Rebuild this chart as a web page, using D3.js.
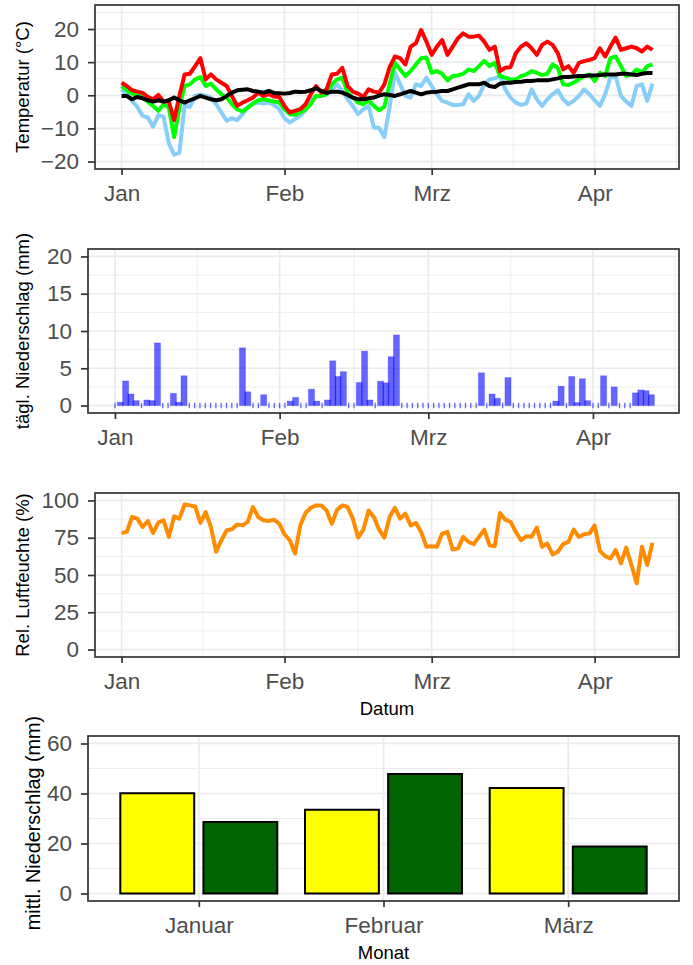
<!DOCTYPE html>
<html lang="de">
<head>
<meta charset="UTF-8">
<title>Wetter Januar - April</title>
<script src="https://d3js.org/d3.v7.min.js"></script>
<style>
    body { margin: 0; background: #fff; }
    svg text { font-family: "Liberation Sans", Arial, sans-serif; }
    .grid-major { stroke: #ebebeb; stroke-width: 1.7px; }
    .grid-minor { stroke: #ebebeb; stroke-width: 0.9px; }
    .frame { fill: none; stroke: #333; stroke-width: 1.7px; }
</style>
</head>
<body>
<script>
    var width = 693, height = 965;

    // daily values, 1 Jan - 12 Apr
    var startDate = new Date(2019, 0, 1);

    var tMax = [3.8, 2.8, 1.5, 1.1, 0.7, -0.5, -1.2, 0.1, -1.9, -1.9,
        -7.5, -0.2, 6.3, 6.5, 8.8, 11.2, 4.8, 6.3, 4.8, 3.8,
        2.8, -0.2, -3.2, -2.2, -1.5, -0.7, 0.8, -0.2, 0.3, -0.4,
        -0.5, -3.2, -5.2, -4.7, -4.2, -2.7, 0.3, 2.8, 0.8, 1.8,
        6.3, 6.5, 8.3, 2.8, 1.1, 0.5, -0.5, 1.8, 1.1, 0.8,
        3.3, 8.5, 11.7, 11.2, 9.3, 14.7, 15.7, 19.7, 16.2, 12.2,
        14.7, 16.7, 12.2, 14.7, 17.2, 18.7, 17.7, 17.7, 18.0, 16.2,
        13.7, 14.7, 7.3, 8.3, 8.5, 12.7, 14.7, 15.7, 14.2, 12.2,
        15.2, 16.2, 15.2, 12.7, 7.8, 8.8, 6.8, 9.8, 10.3, 10.7,
        11.2, 14.2, 11.7, 14.7, 17.4, 13.7, 14.2, 14.7, 14.2, 13.2,
        14.7, 13.7];

    var tMean = [2.8, 1.5, 0.5, 0.1, -0.7, -1.9, -3.2, -4.7, -2.7, -3.7,
        -12.6, -3.7, 2.8, 3.3, 4.8, 5.5, 2.8, 3.5, 1.8, 0.3,
        -0.7, -2.7, -4.2, -4.9, -3.7, -2.5, -1.5, -1.2, -1.5, -1.9,
        -2.2, -4.2, -5.7, -5.9, -5.2, -4.2, -2.7, -0.2, -0.2, 0.3,
        3.3, 4.8, 5.3, 0.8, -0.7, -2.2, -2.7, -1.5, -3.2, -4.5,
        -3.5, 3.3, 9.8, 7.8, 5.8, 7.3, 9.3, 11.2, 11.4, 6.8,
        7.3, 6.5, 4.5, 5.8, 6.0, 6.5, 7.8, 7.3, 8.8, 10.4,
        8.8, 9.8, 5.8, 5.3, 4.8, 4.8, 5.8, 6.3, 7.3, 6.8,
        6.1, 6.5, 9.3, 8.3, 3.3, 3.1, 3.8, 4.8, 5.8, 6.3,
        4.3, 6.8, 5.8, 11.2, 11.7, 8.8, 5.8, 6.3, 7.8, 6.8,
        8.8, 9.3];

    var tMin = [1.8, 0.3, -1.7, -3.5, -6.2, -6.7, -9.5, -6.0, -6.5, -14.5,
        -17.9, -17.4, -3.0, -3.5, -0.2, 0.3, -0.2, -0.7, -2.7, -5.2,
        -7.7, -6.9, -7.5, -5.7, -3.7, -2.5, -2.2, -2.5, -2.2, -2.9,
        -4.2, -6.9, -8.2, -7.2, -6.2, -4.5, -1.2, -0.2, -0.2, 0.3,
        1.8, 3.3, 1.3, -1.2, -3.2, -5.7, -4.2, -3.2, -9.7, -9.9,
        -12.6, -3.5, 6.8, 3.3, -0.2, -0.7, 3.3, 2.8, 5.3, 2.8,
        0.3, -1.7, -2.2, -2.9, -2.9, -2.7, 0.3, -1.7, -0.2, 3.3,
        4.8, 5.1, 5.8, 1.8, -0.7, -2.2, -2.9, -2.5, 1.8, -1.2,
        -3.2, -1.2, 0.3, 1.5, -1.2, -2.7, -1.7, -0.2, 1.8, 0.3,
        -1.5, -3.2, 0.3, 5.3, 5.8, -0.2, -1.9, -3.2, 2.8, 3.3,
        -1.7, 3.5];

    // long-term mean
    var tNorm = [-0.2, -0.2, -1.2, -0.5, -0.9, -1.5, -1.9, -1.5, -1.9, -1.5,
        -0.7, -1.5, -2.2, -1.5, -0.9, -0.2, -0.7, -1.2, -1.5, -1.2,
        -0.2, 0.8, 1.5, 1.7, 1.8, 1.3, 1.1, 0.8, 1.3, 0.7,
        0.6, 0.5, 0.7, 1.1, 1.0, 1.1, 1.5, 2.1, 1.3, 0.7,
        1.1, 1.1, 0.8, 0.1, -0.7, -1.2, -1.2, -0.9, -0.7, -0.1,
        0.3, 0.1, -0.2, 0.3, 0.8, 1.3, 0.8, 0.3, 0.8, 1.0,
        1.1, 1.3, 1.3, 1.8, 2.3, 2.8, 3.3, 3.3, 3.3, 3.8,
        2.8, 2.5, 3.5, 3.8, 3.8, 4.0, 4.1, 4.3, 4.3, 4.5,
        4.5, 4.5, 4.8, 5.1, 5.5, 5.5, 5.7, 5.8, 5.8, 6.0,
        6.0, 6.1, 6.3, 6.3, 6.3, 6.5, 6.5, 6.3, 6.1, 6.5,
        6.7, 6.7];

    var precip = [0, 0.45, 3.3, 1.55, 0.66, 0, 0.75, 0.66, 8.4, 0,
        0, 1.64, 0.45, 4.0, 0, 0, 0, 0, 0, 0,
        0, 0, 0, 0, 7.75, 1.85, 0, 0, 1.46, 0,
        0, 0, 0, 0.6, 1.1, 0, 0, 2.2, 0.6, 0,
        0.75, 6.0, 3.9, 4.55, 0, 0, 3.1, 7.3, 0.75, 0,
        3.27, 3.05, 6.55, 9.47, 0, 0, 0, 0, 0, 0,
        0, 0, 0, 0, 0, 0, 0, 0, 0, 4.4,
        0, 1.55, 0.97, 0, 3.76, 0, 0, 0, 0, 0,
        0, 0, 0, 0.6, 2.6, 0, 3.9, 0.4, 3.6, 0.66,
        0, 0, 4.0, 0, 2.5, 0, 0, 0, 1.7, 2.1,
        2.0, 1.46];

    var humidity = [78.2, 78.9, 88.9, 87.8, 82.2, 86.2, 78.2, 85.1, 86.7, 75.6,
        89.3, 87.8, 97.3, 96.7, 96.0, 84.9, 92.2, 82.2, 65.6, 73.3,
        80.0, 80.7, 83.8, 83.3, 85.6, 95.6, 88.9, 86.7, 86.2, 87.1,
        84.4, 77.3, 73.3, 64.4, 83.3, 91.6, 95.1, 96.7, 96.7, 93.3,
        84.4, 93.8, 96.7, 95.6, 87.8, 75.1, 80.4, 93.3, 88.9, 80.4,
        75.1, 88.9, 95.1, 87.8, 91.1, 83.3, 84.9, 78.9, 68.9, 69.3,
        68.9, 77.8, 78.9, 67.1, 67.8, 75.6, 72.2, 70.7, 75.6, 80.4,
        70.0, 69.3, 91.6, 87.1, 85.6, 78.9, 73.3, 76.0, 75.6, 81.8,
        68.9, 71.1, 63.8, 65.6, 70.7, 72.2, 80.4, 75.6, 77.3, 77.8,
        83.3, 66.2, 62.7, 61.1, 66.7, 57.8, 68.4, 56.7, 44.4, 68.9,
        56.7, 71.6];

    var monthTicks = [new Date(2019, 0, 1), new Date(2019, 1, 1), new Date(2019, 2, 1), new Date(2019, 3, 1)];
    var monthNames = ["Jan", "Feb", "Mrz", "Apr"];

    // monthly precipitation: this year vs. long-term mean
    var barMonths = ["Januar", "Februar", "März"];
    var rainYear = [40.1, 33.5, 42.2];
    var rainNormal = [28.6, 47.8, 18.8];

    var DAY = 864e5;
    var dates = tMax.map(function(d, i) { return new Date(startDate.getTime() + i * DAY); });

    var svg = d3.select("body").append("svg")
        .attr("width", width)
        .attr("height", height)
        .style("display", "block");

    function expand(lo, hi, f) {
        var r = hi - lo;
        return [lo - r * f, hi + r * f];
    }

    // ggplot-style minor breaks: halfway between majors, plus one step outside
    function minorBreaks(ticks, domain) {
        var t = ticks.map(Number), out = [];
        var n = t.length;
        out.push(t[0] - (t[1] - t[0]) / 2);
        for (var i = 0; i < n - 1; i++) out.push((t[i] + t[i + 1]) / 2);
        out.push(t[n - 1] + (t[n - 1] - t[n - 2]) / 2);
        var lo = Math.min(+domain[0], +domain[1]), hi = Math.max(+domain[0], +domain[1]);
        return out.filter(function(v) { return v > lo && v < hi; });
    }

    function drawFrame(p) {
        var g = svg.append("g");
        g.append("rect")
            .attr("x", p.left).attr("y", p.top)
            .attr("width", p.right - p.left).attr("height", p.bottom - p.top)
            .attr("fill", "#fff");

        g.selectAll(".ymin").data(p.yMinor).enter().append("line")
            .attr("class", "grid-minor")
            .attr("x1", p.left).attr("x2", p.right)
            .attr("y1", function(d) { return p.y(d); })
            .attr("y2", function(d) { return p.y(d); });
        g.selectAll(".xmin").data(p.xMinor).enter().append("line")
            .attr("class", "grid-minor")
            .attr("y1", p.top).attr("y2", p.bottom)
            .attr("x1", function(d) { return p.x(d); })
            .attr("x2", function(d) { return p.x(d); });
        g.selectAll(".ymaj").data(p.yTicks).enter().append("line")
            .attr("class", "grid-major")
            .attr("x1", p.left).attr("x2", p.right)
            .attr("y1", function(d) { return p.y(d); })
            .attr("y2", function(d) { return p.y(d); });
        g.selectAll(".xmaj").data(p.xTicks).enter().append("line")
            .attr("class", "grid-major")
            .attr("y1", p.top).attr("y2", p.bottom)
            .attr("x1", function(d) { return p.x(d); })
            .attr("x2", function(d) { return p.x(d); });
        return g;
    }

    function drawAxes(p) {
        var g = svg.append("g");
        g.append("rect")
            .attr("class", "frame")
            .attr("x", p.left).attr("y", p.top)
            .attr("width", p.right - p.left).attr("height", p.bottom - p.top);

        var ya = g.append("g")
            .attr("transform", "translate(" + p.left + ",0)")
            .call(d3.axisLeft(p.y).tickValues(p.yTicks).tickSize(7).tickPadding(9));
        var xa = g.append("g")
            .attr("transform", "translate(0," + p.bottom + ")")
            .call(d3.axisBottom(p.x).tickValues(p.xTicks).tickSize(6).tickPadding(10)
                .tickFormat(function(d, i) { return p.xLabels[i]; }));

        [ya, xa].forEach(function(a) {
            a.select(".domain").remove();
            a.selectAll(".tick line").attr("stroke", "#333").attr("stroke-width", 1.7);
            a.selectAll(".tick text")
                .attr("fill", "#4d4d4d")
                .style("font-size", "22.5px")
                .style("font-family", "'Liberation Sans', Arial, sans-serif");
        });

        var titleY = p.titleY || (p.top + p.bottom) / 2;
        g.append("text")
            .attr("transform", "translate(" + p.titleX + "," + titleY + ") rotate(-90)")
            .attr("text-anchor", "middle")
            .attr("dy", "0.33em")
            .style("font-size", p.titleSize || "18.5px")
            .attr("fill", "#000")
            .text(p.yTitle);

        if (p.xTitle) {
            g.append("text")
                .attr("x", (p.left + p.right) / 2)
                .attr("y", p.xTitleY)
                .attr("text-anchor", "middle")
                .style("font-size", "18.5px")
                .attr("fill", "#000")
                .text(p.xTitle);
        }
    }

    // ---------- panel 1: temperature ----------
    var p1 = { left: 95, right: 679, top: 5, bottom: 169, titleX: 23, yTitle: "Temperatur (°C)" };
    var dExt = expand(+dates[0], +dates[dates.length - 1], 0.05);
    p1.x = d3.scaleTime().domain([new Date(dExt[0]), new Date(dExt[1])]).range([p1.left, p1.right]);
    p1.y = d3.scaleLinear().domain(expand(-20, 25, 0.05)).range([p1.bottom, p1.top]);
    p1.yTicks = [-20, -10, 0, 10, 20];
    p1.yMinor = minorBreaks(p1.yTicks, p1.y.domain());
    p1.xTicks = monthTicks;
    p1.xMinor = minorBreaks(monthTicks, p1.x.domain()).map(function(v) { return new Date(v); });
    p1.xLabels = monthNames;
    drawFrame(p1);

    var tempSeries = [
        { values: tMin, color: "#87cefa" },
        { values: tMean, color: "#00ff00" },
        { values: tMax, color: "#ff0000" },
        { values: tNorm, color: "#000000" }
    ];
    var tempLine = d3.line()
        .x(function(d, i) { return p1.x(dates[i]); })
        .y(function(d) { return p1.y(d); });
    svg.append("g").selectAll("path")
        .data(tempSeries)
        .enter().append("path")
        .attr("d", function(s) { return tempLine(s.values); })
        .attr("fill", "none")
        .attr("stroke", function(s) { return s.color; })
        .attr("stroke-width", 4)
        .attr("stroke-linejoin", "round");
    drawAxes(p1);

    // ---------- panel 2: daily precipitation ----------
    var p2 = { left: 88, right: 679, top: 249, bottom: 413, titleX: 23, yTitle: "tägl. Niederschlag (mm)" };
    // bar axis sits a little left of the line panels
    p2.x = d3.scaleTime()
        .domain([new Date(startDate.getTime() - 5.08 * DAY), new Date(startDate.getTime() + 106.2 * DAY)])
        .range([p2.left, p2.right]);
    p2.y = d3.scaleLinear().domain(expand(0, 20, 0.05)).range([p2.bottom, p2.top]);
    p2.yTicks = [0, 5, 10, 15, 20];
    p2.yMinor = minorBreaks(p2.yTicks, p2.y.domain());
    p2.xTicks = monthTicks;
    p2.xMinor = minorBreaks(monthTicks, p2.x.domain()).map(function(v) { return new Date(v); });
    p2.xLabels = monthNames;
    drawFrame(p2);

    var dayW = p2.x(new Date(startDate.getTime() + DAY)) - p2.x(startDate);
    var barW = dayW * 1.15;
    var rain = precip.map(function(v, i) { return { date: dates[i], value: v }; });

    svg.append("g").selectAll("line")
        .data(rain.filter(function(d) { return d.value === 0; }))
        .enter().append("line")
        .attr("x1", function(d) { return p2.x(d.date); })
        .attr("x2", function(d) { return p2.x(d.date); })
        .attr("y1", p2.y(0) - 2.7)
        .attr("y2", p2.y(0) + 2.7)
        .attr("stroke", "blue")
        .attr("stroke-opacity", 0.6)
        .attr("stroke-width", 1.3);

    svg.append("g").selectAll("rect")
        .data(rain.filter(function(d) { return d.value > 0; }))
        .enter().append("rect")
        .attr("x", function(d) { return p2.x(d.date) - barW / 2; })
        .attr("width", barW)
        .attr("y", function(d) { return p2.y(d.value); })
        .attr("height", function(d) { return p2.y(0) - p2.y(d.value); })
        .attr("fill", "blue")
        .attr("fill-opacity", 0.6)
        .attr("stroke", "blue")
        .attr("stroke-opacity", 0.2)
        .attr("stroke-width", 1);
    drawAxes(p2);

    // ---------- panel 3: relative humidity ----------
    var p3 = { left: 95, right: 679, top: 493, bottom: 657, titleX: 23, yTitle: "Rel. Luftfeuchte (%)",
        xTitle: "Datum", xTitleY: 715 };
    p3.x = p1.x.copy().range([p3.left, p3.right]);
    p3.y = d3.scaleLinear().domain(expand(0, 100, 0.05)).range([p3.bottom, p3.top]);
    p3.yTicks = [0, 25, 50, 75, 100];
    p3.yMinor = minorBreaks(p3.yTicks, p3.y.domain());
    p3.xTicks = monthTicks;
    p3.xMinor = p1.xMinor;
    p3.xLabels = monthNames;
    drawFrame(p3);

    svg.append("path")
        .datum(humidity)
        .attr("d", d3.line()
            .x(function(d, i) { return p3.x(dates[i]); })
            .y(function(d) { return p3.y(d); }))
        .attr("fill", "none")
        .attr("stroke", "#ff8c00")
        .attr("stroke-width", 4)
        .attr("stroke-linejoin", "round");
    drawAxes(p3);

    // ---------- panel 4: monthly precipitation ----------
    var p4 = { left: 88, right: 679, top: 736, bottom: 901, titleX: 33, titleY: 823, titleSize: "19.8px",
        yTitle: "mittl. Niederschlag (mm)", xTitle: "Monat", xTitleY: 959 };
    p4.x = d3.scaleLinear().domain([0.4, 3.6]).range([p4.left, p4.right]);
    p4.y = d3.scaleLinear().domain(expand(0, 60, 0.05)).range([p4.bottom, p4.top]);
    p4.yTicks = [0, 20, 40, 60];
    p4.yMinor = minorBreaks(p4.yTicks, p4.y.domain());
    p4.xTicks = [1, 2, 3];
    p4.xMinor = [];
    p4.xLabels = barMonths;
    drawFrame(p4);

    var unit = p4.x(1) - p4.x(0);
    var bars = [];
    barMonths.forEach(function(m, i) {
        bars.push({ pos: i + 1 - 0.225, value: rainYear[i], fill: "#ffff00" });
        bars.push({ pos: i + 1 + 0.225, value: rainNormal[i], fill: "#006400" });
    });
    svg.append("g").selectAll("rect")
        .data(bars)
        .enter().append("rect")
        .attr("x", function(d) { return p4.x(d.pos) - 0.2 * unit; })
        .attr("width", 0.4 * unit)
        .attr("y", function(d) { return p4.y(d.value); })
        .attr("height", function(d) { return p4.y(0) - p4.y(d.value); })
        .attr("fill", function(d) { return d.fill; })
        .attr("stroke", "#000")
        .attr("stroke-width", 2);
    drawAxes(p4);
</script>
</body>
</html>
